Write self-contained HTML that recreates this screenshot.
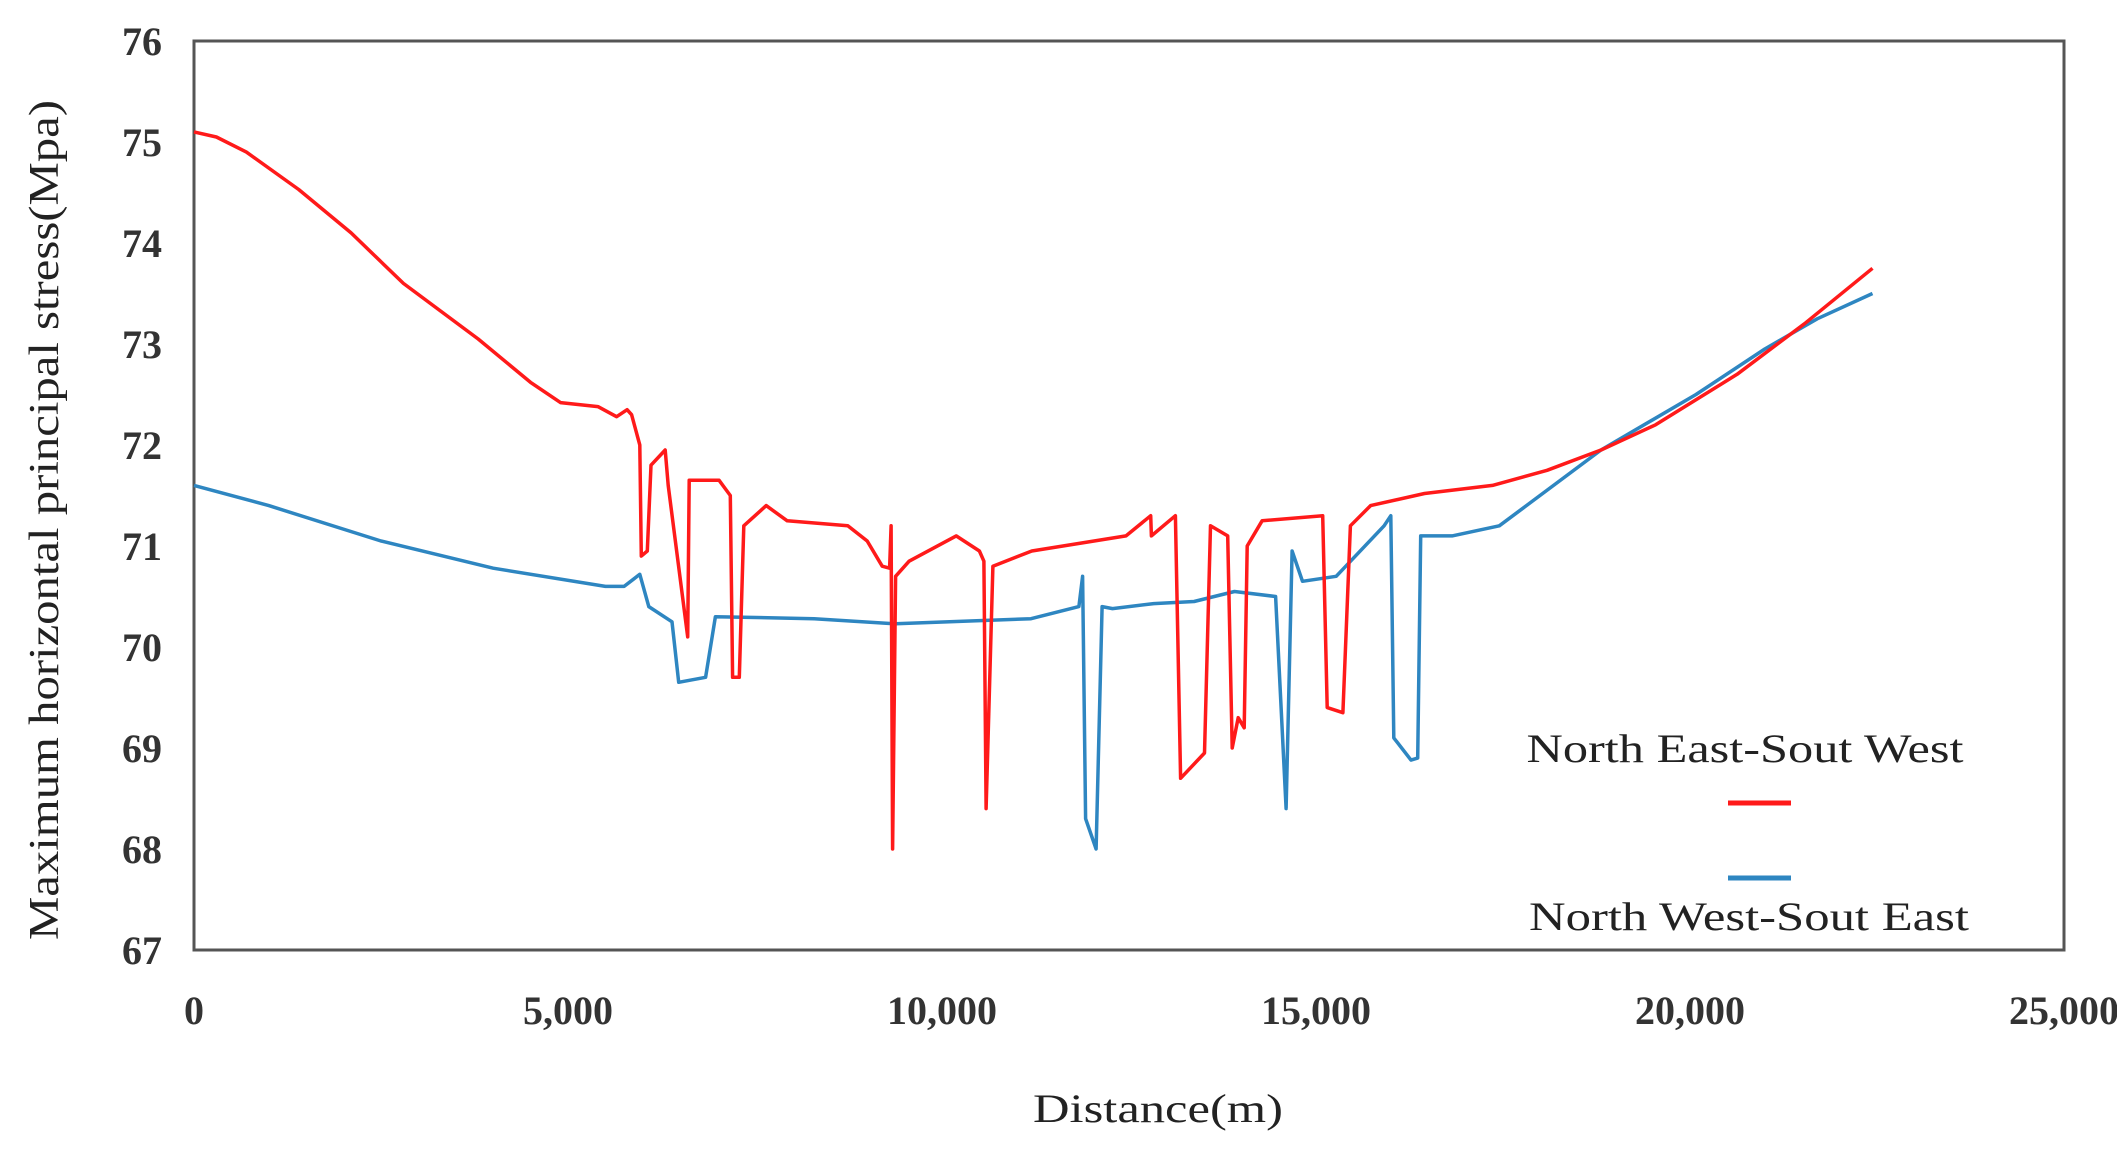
<!DOCTYPE html>
<html><head><meta charset="utf-8"><style>
html,body{margin:0;padding:0;background:#fff;}
svg{display:block;}
text{font-family:"Liberation Serif",serif;}
</style></head><body>
<svg id="chart" width="2117" height="1150" viewBox="0 0 2117 1150">
<rect x="194" y="41" width="1870" height="909" fill="#fff" stroke="#555" stroke-width="3"/>
<g id="yt"></g><g id="xt"></g>
<g id="series"></g>
<text x="0" y="0" transform="translate(58,520) rotate(-90)" text-anchor="middle" font-size="42" textLength="840" lengthAdjust="spacingAndGlyphs" fill="#222">Maximum horizontal principal stress(Mpa)</text>
<text x="1158" y="1122" text-anchor="middle" font-size="40" textLength="250" lengthAdjust="spacingAndGlyphs" fill="#222">Distance(m)</text>
<g>
<text x="1745" y="762" text-anchor="middle" font-size="40" textLength="437" lengthAdjust="spacingAndGlyphs" fill="#222">North East-Sout West</text>
<line x1="1728" y1="803" x2="1791" y2="803" stroke="#ff1a1a" stroke-width="5"/>
<line x1="1728" y1="878" x2="1791" y2="878" stroke="#2e86c1" stroke-width="5"/>
<text x="1749" y="930" text-anchor="middle" font-size="40" textLength="440" lengthAdjust="spacingAndGlyphs" fill="#222">North West-Sout East</text>
</g>
</svg>
<script>
const yTicks=[67,68,69,70,71,72,73,74,75,76];
const xTicks=[0,5000,10000,15000,20000,25000];
const xTickLabels=["0","5,000","10,000","15,000","20,000","25,000"];
const redX=[0,300,700,1400,2100,2800,3800,4500,4900,5400,5650,5790,5850,5960,5980,6060,6110,6300,6340,6600,6620,7020,7120,7170,7200,7290,7350,7650,7930,8740,9000,9200,9300,9320,9340,9380,9560,10190,10500,10560,10590,10680,11200,12460,12790,12800,13120,13190,13510,13590,13820,13880,13960,14040,14080,14280,15090,15150,15360,15460,15730,16450,17360,18090,18810,19540,20630,21530,22440];
const redY=[75.1,75.05,74.9,74.53,74.1,73.6,73.05,72.62,72.42,72.38,72.28,72.35,72.3,72.0,70.9,70.95,71.8,71.95,71.6,70.1,71.65,71.65,71.55,71.5,69.7,69.7,71.2,71.4,71.25,71.2,71.05,70.8,70.78,71.2,68.0,70.7,70.85,71.1,70.95,70.85,68.4,70.8,70.95,71.1,71.3,71.1,71.3,68.7,68.95,71.2,71.1,69.0,69.3,69.2,71.0,71.25,71.3,69.4,69.35,71.2,71.4,71.52,71.6,71.75,71.95,72.2,72.7,73.2,73.75];
const blueX=[0,1000,2500,4000,5500,5750,5960,6080,6390,6480,6840,6970,8290,9380,11190,11830,11880,11920,12060,12140,12280,12830,13370,13910,14460,14600,14680,14820,15270,15910,16000,16040,16270,16360,16400,16820,17450,18810,20080,21000,21700,22440];
const blueY=[71.6,71.4,71.05,70.78,70.6,70.6,70.72,70.4,70.25,69.65,69.7,70.3,70.28,70.23,70.28,70.4,70.7,68.3,68.0,70.4,70.38,70.43,70.45,70.55,70.5,68.4,70.95,70.65,70.7,71.2,71.3,69.1,68.88,68.9,71.1,71.1,71.2,71.95,72.5,72.95,73.25,73.5];
const L=194,R=2064,T=41,B=950;
const sx=v=>L+(v/25000)*(R-L);
const sy=v=>B-(v-67)/9*(B-T);
const NS="http://www.w3.org/2000/svg";
const yt=document.getElementById('yt'),xt=document.getElementById('xt'),sg=document.getElementById('series');
yTicks.forEach(v=>{const t=document.createElementNS(NS,'text');


t.setAttribute('x',162);t.setAttribute('y',sy(v)+14);t.setAttribute('text-anchor','end');t.setAttribute('font-size','40');t.setAttribute('font-weight','bold');t.setAttribute('fill','#333');t.textContent=v;yt.appendChild(t);});
xTicks.forEach((v,i)=>{const t=document.createElementNS(NS,'text');


t.setAttribute('x',sx(v));t.setAttribute('y',1024);t.setAttribute('text-anchor','middle');t.setAttribute('font-size','40');t.setAttribute('font-weight','bold');t.setAttribute('fill','#333');t.textContent=xTickLabels[i];xt.appendChild(t);});
function line(xs,ys,color,name){const p=document.createElementNS(NS,'polyline');


p.setAttribute('points',xs.map((x,i)=>sx(x).toFixed(1)+','+sy(ys[i]).toFixed(1)).join(' '));
p.setAttribute('fill','none');p.setAttribute('stroke',color);p.setAttribute('stroke-width','3.5');p.setAttribute('stroke-linejoin','round');sg.appendChild(p);}
line(blueX,blueY,'#2e86c1','series-nw-se');
line(redX,redY,'#ff1a1a','series-ne-sw');
</script>
</body></html>
